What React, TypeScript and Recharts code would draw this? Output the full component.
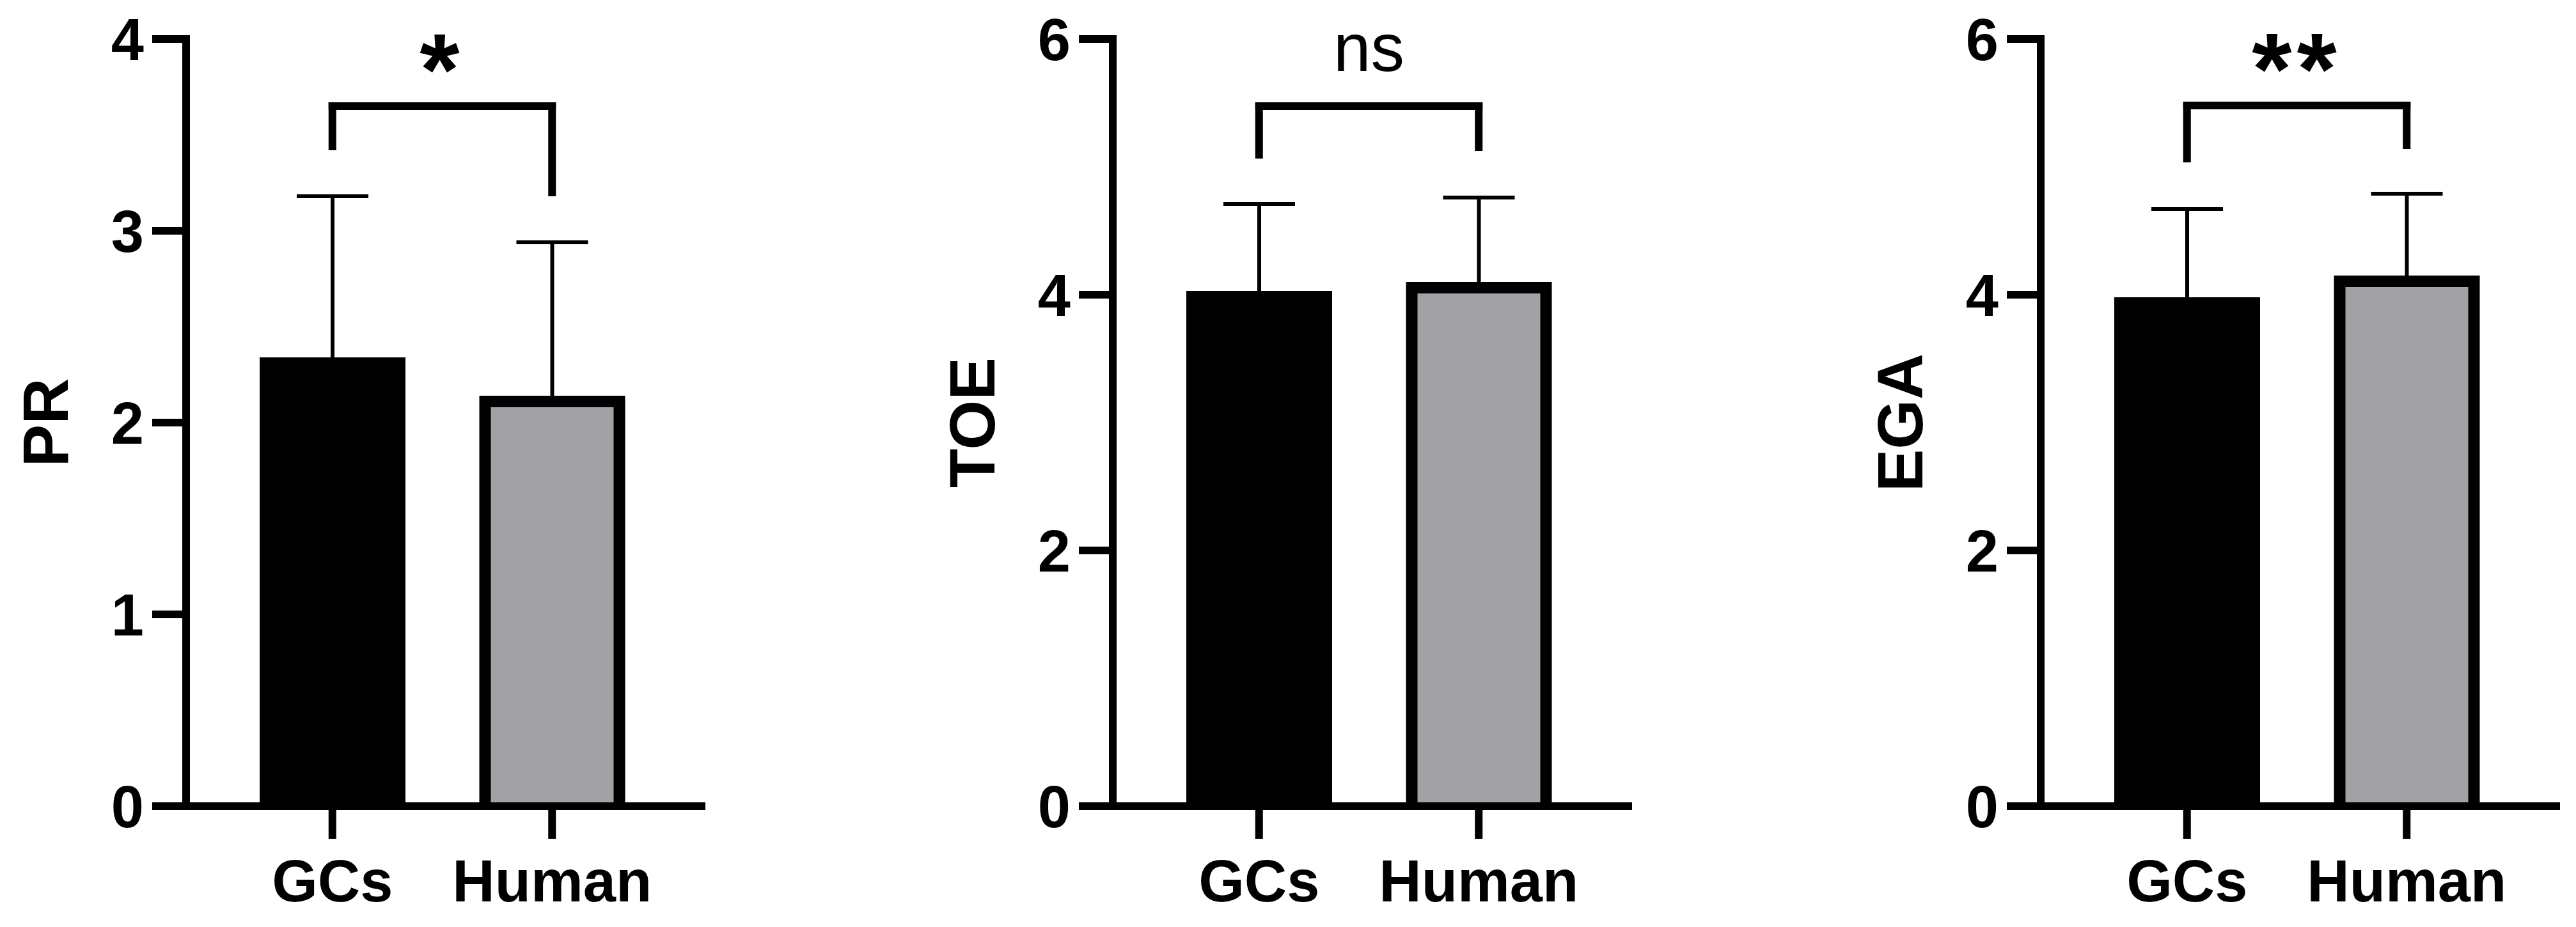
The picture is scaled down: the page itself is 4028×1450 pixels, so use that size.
import { BarChart, Bar, XAxis, YAxis, ErrorBar, ReferenceLine, Label } from 'recharts'

const FONT = '"Liberation Sans", Arial, Helvetica, sans-serif'

// groups on the x axis
const groups = ['GCs', 'Human']

// bar means and upper SD
const prMean = [2.34, 2.14]
const prErr = [0.84, 0.8]
const toeMean = [4.03, 4.1]
const toeErr = [0.68, 0.66]
const egaMean = [3.98, 4.15]
const egaErr = [0.69, 0.64]

const prTicks = [0, 1, 2, 3, 4]
const toeTicks = [0, 2, 4, 6]
const egaTicks = [0, 2, 4, 6]

// significance bracket: [top, left leg end, right leg end]
const prBracket = [3.65, 3.44, 3.2]
const toeBracket = [5.475, 5.095, 5.155]
const egaBracket = [5.48, 5.065, 5.17]

const GREY = '#a2a1a6'
const PLOT_H = 1200

// the lower cap of the error bar is tucked 6px inside the bar top so it stays hidden
const makeRows = (mean: number[], err: number[], yMax: number) => {
   const hide = (6 * yMax) / PLOT_H
   return groups.map((g, i) => ({ group: g, mean: mean[i], err: [hide, err[i]] }))
}

const BarShape = (props: any) => {
   const { x, y, width, height, index } = props
   if (index === 0) {
      return <rect x={x} y={y} width={width} height={height} fill='#000' />
   }
   const b = 18
   return (
      <g>
         <rect x={x} y={y} width={width} height={height} fill='#000' />
         <rect x={x + b} y={y + b} width={width - 2 * b} height={Math.max(height - b, 0)} fill={GREY} />
      </g>
   )
}

type PanelProps = {
   left: number
   title: string
   mean: number[]
   err: number[]
   ticks: number[]
   bracket: number[]
   sig: string
}

const Panel = ({ left, title, mean, err, ticks, bracket, sig }: PanelProps) => {
   const yMax = ticks[ticks.length - 1]
   const rows = makeRows(mean, err, yMax)
   const isStar = sig !== 'ns'
   return (
      <div style={{ position: 'absolute', left: left - 442, top: 0 }}>
         <BarChart width={1288} height={1450} data={rows} margin={{ top: 61, right: 40, bottom: 0, left: 0 }}>
            <XAxis
               dataKey='group'
               height={189}
               padding={{ left: 57, right: 62 }}
               axisLine={{ stroke: '#000', strokeWidth: 12, strokeLinecap: 'square' }}
               tickLine={{ stroke: '#000', strokeWidth: 12 }}
               tickSize={51}
               tickMargin={33}
               tick={{ fontSize: 92, fontWeight: 700, fill: '#000', fontFamily: FONT }}
               interval={0}
            />
            <YAxis
               width={442}
               domain={[0, yMax]}
               ticks={ticks}
               interval={0}
               axisLine={{ stroke: '#000', strokeWidth: 12, strokeLinecap: 'square' }}
               tickLine={{ stroke: '#000', strokeWidth: 12 }}
               tickSize={53}
               tickMargin={13}
               tick={{ fontSize: 92, fontWeight: 700, fill: '#000', fontFamily: FONT }}
            >
               <Label
                  value={title}
                  angle={-90}
                  position='center'
                  style={{ fontSize: 100, fontWeight: 700, fill: '#000', fontFamily: FONT }}
               />
            </YAxis>
            <Bar dataKey='mean' barSize={228} shape={BarShape} isAnimationActive={false}>
               <ErrorBar dataKey='err' width={56} stroke='#000' strokeWidth={6} direction='y' />
            </Bar>
            <ReferenceLine
               segment={[{ x: groups[0], y: bracket[0] }, { x: groups[1], y: bracket[0] }]}
               stroke='#000'
               strokeWidth={12}
               strokeLinecap='square'
               label={{
                  value: sig,
                  position: 'top',
                  offset: isStar ? 2 : 55,
                  fontSize: isStar ? 160 : 105,
                  fontWeight: isStar ? 700 : 400,
                  letterSpacing: isStar ? 8 : 0,
                  fill: '#000',
                  fontFamily: FONT,
               }}
            />
            <ReferenceLine
               segment={[{ x: groups[0], y: bracket[1] }, { x: groups[0], y: bracket[0] }]}
               stroke='#000'
               strokeWidth={12}
               strokeLinecap='square'
            />
            <ReferenceLine
               segment={[{ x: groups[1], y: bracket[2] }, { x: groups[1], y: bracket[0] }]}
               stroke='#000'
               strokeWidth={12}
               strokeLinecap='square'
            />
         </BarChart>
      </div>
   )
}

export default function App() {
   return (
      <div style={{ position: 'absolute', left: 0, top: 0, width: 4028, height: 1450, overflow: 'hidden', background: '#fff' }}>
         <Panel left={291} title='PR' mean={prMean} err={prErr} ticks={prTicks} bracket={prBracket} sig='*' />
         <Panel left={1740} title='TOE' mean={toeMean} err={toeErr} ticks={toeTicks} bracket={toeBracket} sig='ns' />
         <Panel left={3191} title='EGA' mean={egaMean} err={egaErr} ticks={egaTicks} bracket={egaBracket} sig='**' />
      </div>
   )
}
